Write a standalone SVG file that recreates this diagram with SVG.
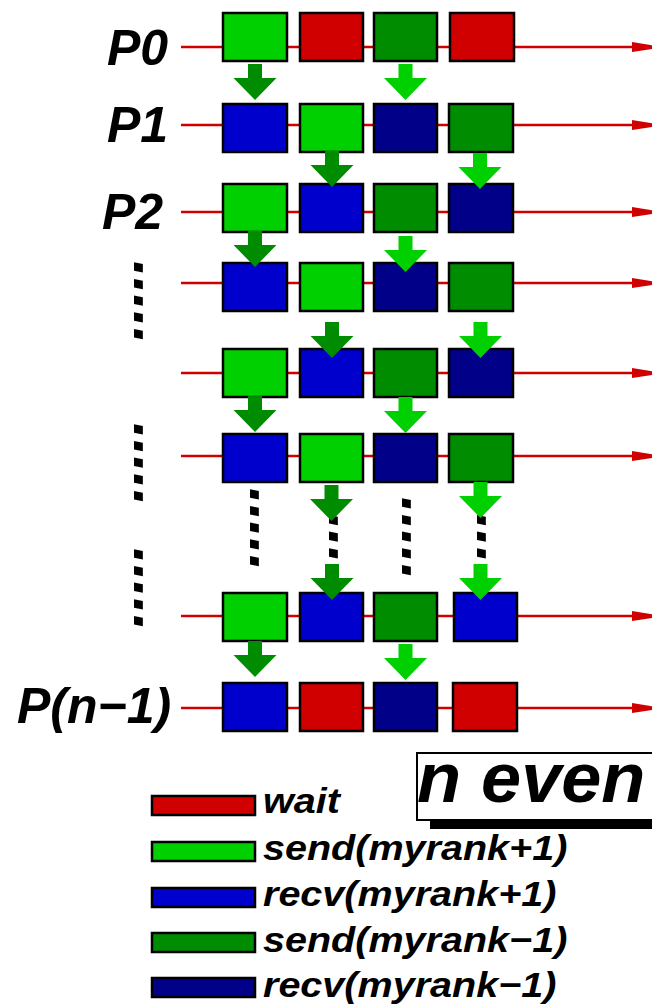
<svg xmlns="http://www.w3.org/2000/svg" xmlns:xlink="http://www.w3.org/1999/xlink" width="652" height="1005" viewBox="0 0 652 1005">
<style>
  text { font-family: 'Liberation Sans', Arial, sans-serif; font-weight: bold; font-style: italic; fill: #000; }
  .lbl { font-size: 50px; }
  .leg { font-size: 35px; }
  .dots { font-size: 60px; }
  .tl { stroke: #D00000; stroke-width: 2.5; fill: none; }
  .box { stroke: #000; stroke-width: 2.5; }
  .R { fill: #D00000; }
  .G { fill: #00D000; }
  .B { fill: #0000CC; }
  .D { fill: #008C00; }
  .N { fill: #000088; }
  .ad { fill: #008C00; }
  .al { fill: #00D000; }
</style>
<defs>
  <marker id="ah" viewBox="0 0 32 10" markerWidth="32" markerHeight="10" refX="2" refY="5" markerUnits="userSpaceOnUse" orient="auto">
    <path d="M0,0 L32,5 L0,10 Z" fill="#D00000"/>
  </marker>
  <path id="arr" d="M-7,-36 L7,-36 L7,-22 L21.5,-22 L0,0 L-21.5,-22 L-7,-22 Z"/>
</defs>

<g id="timelines">
  <line class="tl" x1="181" y1="47" x2="634" y2="47" marker-end="url(#ah)"/>
  <line class="tl" x1="181" y1="125" x2="634" y2="125" marker-end="url(#ah)"/>
  <line class="tl" x1="181" y1="212" x2="634" y2="212" marker-end="url(#ah)"/>
  <line class="tl" x1="181" y1="283" x2="634" y2="283" marker-end="url(#ah)"/>
  <line class="tl" x1="181" y1="373" x2="634" y2="373" marker-end="url(#ah)"/>
  <line class="tl" x1="181" y1="456" x2="634" y2="456" marker-end="url(#ah)"/>
  <line class="tl" x1="181" y1="616" x2="634" y2="616" marker-end="url(#ah)"/>
  <line class="tl" x1="181" y1="708" x2="634" y2="708" marker-end="url(#ah)"/>
</g>

<g id="labels">
  <text class="lbl" x="107" y="65">P0</text>
  <text class="lbl" x="107" y="142">P1</text>
  <text class="lbl" x="102" y="229">P2</text>
  <text class="lbl" x="17" y="723">P(n−1)</text>
</g>

<g id="ellipses">
  <text class="dots" transform="translate(134,261) rotate(90)">.....</text>
  <text class="dots" transform="translate(134,423) rotate(90)">.....</text>
  <text class="dots" transform="translate(134,548) rotate(90)">.....</text>
  <text class="dots" transform="translate(250,488) rotate(90)">.....</text>
  <text class="dots" transform="translate(329,497) rotate(90)">.....</text>
  <text class="dots" transform="translate(402,497) rotate(90)">.....</text>
  <text class="dots" transform="translate(477,497) rotate(90)">.....</text>
</g>

<g id="row0">
  <g id="r0c1"><rect class="box G" x="223" y="13" width="64" height="48"/></g>
  <g id="r0c2"><rect class="box R" x="300" y="13" width="63" height="48"/></g>
  <g id="r0c3"><rect class="box D" x="374" y="13" width="63" height="48"/></g>
  <g id="r0c4"><rect class="box R" x="450" y="13" width="64" height="48"/></g>
</g>
<g id="row1">
  <g id="r1c1"><rect class="box B" x="223" y="104" width="64" height="48"/></g>
  <g id="r1c2"><rect class="box G" x="300" y="104" width="63" height="48"/></g>
  <g id="r1c3"><rect class="box N" x="374" y="104" width="63" height="48"/></g>
  <g id="r1c4"><rect class="box D" x="449" y="104" width="64" height="48"/></g>
</g>
<g id="row2">
  <g id="r2c1"><rect class="box G" x="223" y="184" width="64" height="48"/></g>
  <g id="r2c2"><rect class="box B" x="300" y="184" width="63" height="48"/></g>
  <g id="r2c3"><rect class="box D" x="374" y="184" width="63" height="48"/></g>
  <g id="r2c4"><rect class="box N" x="449" y="184" width="64" height="48"/></g>
</g>
<g id="row3">
  <g id="r3c1"><rect class="box B" x="223" y="263" width="64" height="48"/></g>
  <g id="r3c2"><rect class="box G" x="300" y="263" width="63" height="48"/></g>
  <g id="r3c3"><rect class="box N" x="374" y="263" width="63" height="48"/></g>
  <g id="r3c4"><rect class="box D" x="449" y="263" width="64" height="48"/></g>
</g>
<g id="row4">
  <g id="r4c1"><rect class="box G" x="223" y="349" width="64" height="48"/></g>
  <g id="r4c2"><rect class="box B" x="300" y="349" width="63" height="48"/></g>
  <g id="r4c3"><rect class="box D" x="374" y="349" width="63" height="48"/></g>
  <g id="r4c4"><rect class="box N" x="449" y="349" width="64" height="48"/></g>
</g>
<g id="row5">
  <g id="r5c1"><rect class="box B" x="223" y="434" width="64" height="48"/></g>
  <g id="r5c2"><rect class="box G" x="300" y="434" width="63" height="48"/></g>
  <g id="r5c3"><rect class="box N" x="374" y="434" width="63" height="48"/></g>
  <g id="r5c4"><rect class="box D" x="449" y="434" width="64" height="48"/></g>
</g>
<g id="row6">
  <g id="r6c1"><rect class="box G" x="223" y="593" width="64" height="48"/></g>
  <g id="r6c2"><rect class="box B" x="300" y="593" width="63" height="48"/></g>
  <g id="r6c3"><rect class="box D" x="374" y="593" width="63" height="48"/></g>
  <g id="r6c4"><rect class="box B" x="454" y="593" width="63" height="48"/></g>
</g>
<g id="row7">
  <g id="r7c1"><rect class="box B" x="223" y="683" width="64" height="48"/></g>
  <g id="r7c2"><rect class="box R" x="300" y="683" width="63" height="48"/></g>
  <g id="r7c3"><rect class="box N" x="374" y="683" width="63" height="48"/></g>
  <g id="r7c4"><rect class="box R" x="453" y="683" width="64" height="48"/></g>
</g>

<g id="connectors">
  <use xlink:href="#arr" href="#arr" class="ad" x="255" y="100"/>
  <use xlink:href="#arr" href="#arr" class="al" x="405.5" y="100"/>
  <use xlink:href="#arr" href="#arr" class="ad" x="332" y="187"/>
  <use xlink:href="#arr" href="#arr" class="al" x="480" y="189"/>
  <use xlink:href="#arr" href="#arr" class="ad" x="255" y="267"/>
  <use xlink:href="#arr" href="#arr" class="al" x="405.5" y="272"/>
  <use xlink:href="#arr" href="#arr" class="ad" x="332" y="358"/>
  <use xlink:href="#arr" href="#arr" class="al" x="480.5" y="358"/>
  <use xlink:href="#arr" href="#arr" class="ad" x="255" y="432"/>
  <use xlink:href="#arr" href="#arr" class="al" x="405.5" y="433"/>
  <use xlink:href="#arr" href="#arr" class="ad" x="331.5" y="521"/>
  <use xlink:href="#arr" href="#arr" class="al" x="480.5" y="518"/>
  <use xlink:href="#arr" href="#arr" class="ad" x="332" y="600"/>
  <use xlink:href="#arr" href="#arr" class="al" x="480.5" y="600"/>
  <use xlink:href="#arr" href="#arr" class="ad" x="255" y="677"/>
  <use xlink:href="#arr" href="#arr" class="al" x="405.5" y="680"/>
</g>

<g id="title">
  <rect x="430" y="762" width="260" height="67" fill="#000"/>
  <rect x="417" y="753" width="260" height="67" fill="#fff" stroke="#000" stroke-width="2"/>
  <text transform="translate(417,802) scale(1.03,1)" font-size="70">n even</text>
</g>

<g id="legend">
  <rect class="box R" x="152" y="796" width="103" height="19" stroke-width="2"/>
  <rect class="box G" x="152" y="842" width="103" height="19" stroke-width="2"/>
  <rect class="box B" x="152" y="888" width="103" height="19" stroke-width="2"/>
  <rect class="box D" x="152" y="933" width="103" height="19" stroke-width="2"/>
  <rect class="box N" x="152" y="978" width="103" height="19" stroke-width="2"/>
  <text class="leg" transform="translate(263,813) scale(1.13,1)">wait</text>
  <text class="leg" transform="translate(263,860) scale(1.13,1)">send(myrank+1)</text>
  <text class="leg" transform="translate(263,906) scale(1.13,1)">recv(myrank+1)</text>
  <text class="leg" transform="translate(263,952) scale(1.13,1)">send(myrank−1)</text>
  <text class="leg" transform="translate(263,997) scale(1.13,1)">recv(myrank−1)</text>
</g>
</svg>
